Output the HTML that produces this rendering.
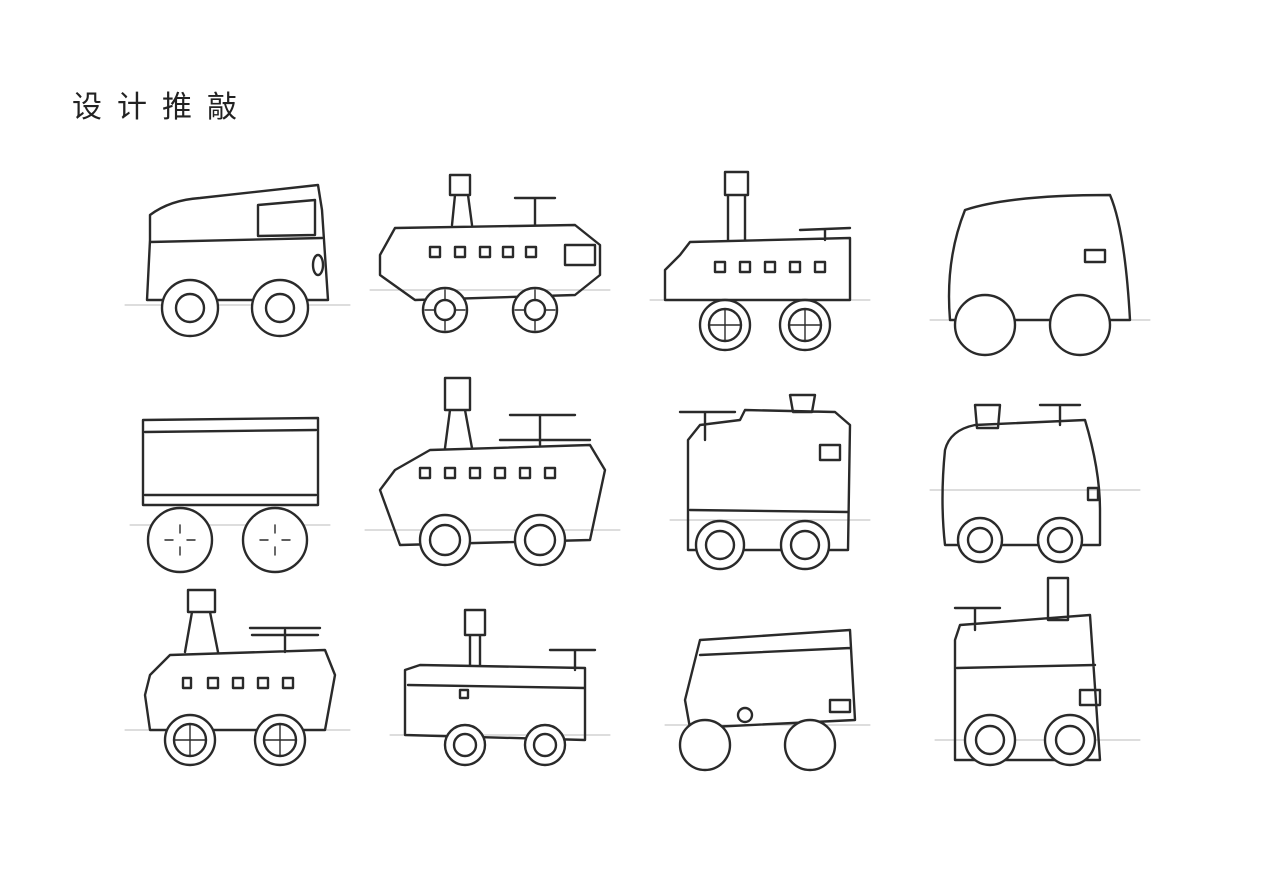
<!DOCTYPE html>
<html><head><meta charset="utf-8"><style>
html,body{margin:0;padding:0;background:#fff;width:1280px;height:888px;overflow:hidden}
.t{position:absolute;left:72px;top:82px;font:30px "Liberation Sans","Noto Sans CJK SC",sans-serif;letter-spacing:15px;color:#222}
svg{position:absolute;left:0;top:0}
svg *{fill:none;stroke:#2a2a2a;stroke-width:2.4;stroke-linejoin:round;stroke-linecap:round}
.w{fill:#fff}
.h{stroke:#bbb;stroke-width:1}
.s{stroke-width:1.4}
</style></head><body>
<div class="t">设计推敲</div>
<svg width="1280" height="888" viewBox="0 0 1280 888">
<path class="h" d="M125,305 L350,305 M370,290 L610,290 M650,300 L870,300 M930,320 L1150,320 M130,525 L330,525 M365,530 L620,530 M670,520 L870,520 M930,490 L1140,490 M125,730 L350,730 M390,735 L610,735 M665,725 L870,725 M935,740 L1140,740"/>
<!-- 1 -->
<path d="M150,240 L150,215 Q170,200 200,198 L318,185 L322,210 L328,300 L147,300 Z M150,242 L322,238 M258,205 L315,200 L315,235 L258,236 Z"/>
<ellipse cx="318" cy="265" rx="5" ry="10"/>
<circle class="w" cx="190" cy="308" r="28"/><circle cx="190" cy="308" r="14"/>
<circle class="w" cx="280" cy="308" r="28"/><circle cx="280" cy="308" r="14"/>
<!-- 2 -->
<path d="M380,255 L395,228 L575,225 L600,245 L600,275 L575,295 L415,300 L380,275 Z M450,175 L470,175 L470,195 L450,195 Z M455,195 L452,225 M468,195 L472,225 M535,198 L535,225 M515,198 L555,198 M565,245 L595,245 L595,265 L565,265 Z M430,247h10v10h-10z M455,247h10v10h-10z M480,247h10v10h-10z M503,247h10v10h-10z M526,247h10v10h-10z"/>
<circle class="w" cx="445" cy="310" r="22"/><circle cx="445" cy="310" r="10"/>
<circle class="w" cx="535" cy="310" r="22"/><circle cx="535" cy="310" r="10"/>
<path class="s" d="M445,290V300M445,320V330M425,310H435M455,310H465M535,290V300M535,320V330M515,310H525M545,310H555"/>
<!-- 3 -->
<path d="M665,270 L680,255 L690,242 L850,238 L850,300 L665,300 Z M725,172 L748,172 L748,195 L725,195 Z M728,195 L728,240 M745,195 L745,240 M825,230 L825,240 M800,230 L850,228 M715,262h10v10h-10z M740,262h10v10h-10z M765,262h10v10h-10z M790,262h10v10h-10z M815,262h10v10h-10z"/>
<circle class="w" cx="725" cy="325" r="25"/><circle cx="725" cy="325" r="16"/>
<circle class="w" cx="805" cy="325" r="25"/><circle cx="805" cy="325" r="16"/>
<path class="s" d="M725,309V341M709,325H741M805,309V341M789,325H821"/>
<!-- 4 -->
<path d="M965,210 Q1010,195 1110,195 Q1125,230 1130,320 L950,320 Q945,260 965,210 Z M1085,250 L1105,250 L1105,262 L1085,262 Z"/>
<circle class="w" cx="985" cy="325" r="30"/><circle class="w" cx="1080" cy="325" r="30"/>
<!-- 5 -->
<path d="M143,420 L318,418 L318,505 L143,505 Z M145,432 L316,430 M145,495 L316,495"/>
<circle class="w" cx="180" cy="540" r="32"/><circle class="w" cx="275" cy="540" r="32"/>
<path class="s" d="M180,525V533M180,547V555M165,540H173M187,540H195M275,525V533M275,547V555M260,540H268M282,540H290"/>
<!-- 6 -->
<path d="M380,490 L395,470 L430,450 L590,445 L605,470 L590,540 L400,545 Z M445,378 L470,378 L470,410 L445,410 Z M450,410 L445,448 M465,410 L472,448 M540,415 L540,445 M510,415 L575,415 M500,440 L590,440 M420,468h10v10h-10z M445,468h10v10h-10z M470,468h10v10h-10z M495,468h10v10h-10z M520,468h10v10h-10z M545,468h10v10h-10z"/>
<circle class="w" cx="445" cy="540" r="25"/><circle cx="445" cy="540" r="15"/>
<circle class="w" cx="540" cy="540" r="25"/><circle cx="540" cy="540" r="15"/>
<!-- 7 -->
<path d="M688,440 L700,425 L740,420 L745,410 L835,412 L850,425 L848,550 L688,550 Z M790,395 L815,395 L812,412 L793,412 Z M705,412 L705,440 M680,412 L735,412 M820,445 L840,445 L840,460 L820,460 Z M690,510 L848,512"/>
<circle class="w" cx="720" cy="545" r="24"/><circle cx="720" cy="545" r="14"/>
<circle class="w" cx="805" cy="545" r="24"/><circle cx="805" cy="545" r="14"/>
<!-- 8 -->
<path d="M945,450 Q950,430 975,425 L1085,420 Q1100,470 1100,510 L1100,545 L945,545 Q940,500 945,450 Z M975,405 L1000,405 L998,428 L977,428 Z M1060,405 L1060,425 M1040,405 L1080,405 M1088,488 L1098,488 L1098,500 L1088,500 Z"/>
<circle class="w" cx="980" cy="540" r="22"/><circle cx="980" cy="540" r="12"/>
<circle class="w" cx="1060" cy="540" r="22"/><circle cx="1060" cy="540" r="12"/>
<!-- 9 -->
<path d="M145,695 L150,675 L170,655 L325,650 L335,675 L325,730 L150,730 Z M188,590 L215,590 L215,612 L188,612 Z M192,612 L185,652 M210,612 L218,652 M285,630 L285,652 M250,628 L320,628 M252,635 L318,635 M183,678h8v10h-8z M208,678h10v10h-10z M233,678h10v10h-10z M258,678h10v10h-10z M283,678h10v10h-10z"/>
<circle class="w" cx="190" cy="740" r="25"/><circle cx="190" cy="740" r="16"/>
<circle class="w" cx="280" cy="740" r="25"/><circle cx="280" cy="740" r="16"/>
<path class="s" d="M190,724V756M174,740H206M280,724V756M264,740H296"/>
<!-- 10 -->
<path d="M405,670 L420,665 L585,668 L585,740 L405,735 Z M465,610 L485,610 L485,635 L465,635 Z M470,635 L470,665 M480,635 L480,665 M575,650 L575,670 M550,650 L595,650 M408,685 L585,688 M460,690h8v8h-8z"/>
<circle class="w" cx="465" cy="745" r="20"/><circle cx="465" cy="745" r="11"/>
<circle class="w" cx="545" cy="745" r="20"/><circle cx="545" cy="745" r="11"/>
<!-- 11 -->
<path d="M700,640 L850,630 L855,720 L690,728 L685,700 Z M700,655 L850,648 M830,700 L850,700 L850,712 L830,712 Z"/>
<circle cx="745" cy="715" r="7"/>
<circle class="w" cx="705" cy="745" r="25"/><circle class="w" cx="810" cy="745" r="25"/>
<!-- 12 -->
<path d="M955,640 L960,625 L1090,615 L1100,760 L955,760 Z M1048,578 L1068,578 L1068,620 L1048,620 Z M975,608 L975,630 M955,608 L1000,608 M957,668 L1095,665 M1080,690 L1100,690 L1100,705 L1080,705 Z"/>
<circle class="w" cx="990" cy="740" r="25"/><circle cx="990" cy="740" r="14"/>
<circle class="w" cx="1070" cy="740" r="25"/><circle cx="1070" cy="740" r="14"/>
</svg>
</body></html>
